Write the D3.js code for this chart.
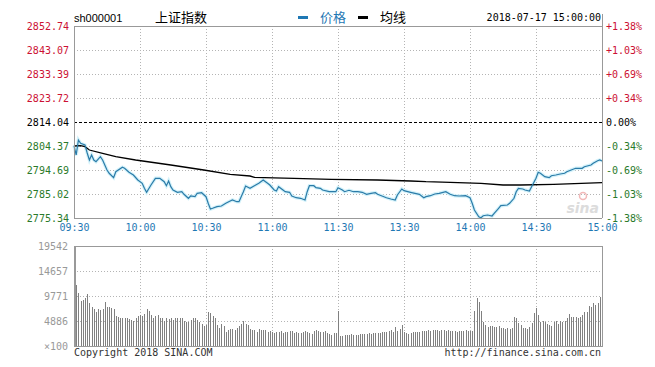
<!DOCTYPE html>
<html>
<head>
<meta charset="utf-8">
<script src="https://cdn.jsdelivr.net/npm/d3@7"></script>
<style>
  body { margin: 0; background: #fff; }
  svg { display: block; }
</style>
</head>
<body>
<svg width="655" height="367"></svg>
<script>
// ---- data ----
var symbol = "sh000001"
var stockName = "上证指数"
var stamp = "2018-07-17 15:00:00"
var prevClose = 2814.04

var priceTicks = [2852.74, 2843.07, 2833.39, 2823.72, 2814.04, 2804.37, 2794.69, 2785.02, 2775.34]
var pctTicks = ["+1.38%", "+1.03%", "+0.69%", "+0.34%", "0.00%", "-0.34%", "-0.69%", "-1.03%", "-1.38%"]
var timeTicks = ["09:30", "10:00", "10:30", "11:00", "11:30", "13:30", "14:00", "14:30", "15:00"]
var volTicks = [19542, 14657, 9771, 4886, 0]
var volTickLabels = ["19542", "14657", "9771", "4886", "×100"]

var priceTimes = ["09:30","09:31","09:32","09:33","09:35","09:36","09:37","09:38","09:39","09:40","09:42","09:43","09:45","09:46","09:48","09:49","09:52","09:53","09:55","09:57","09:59",
  "10:01","10:02","10:03","10:05","10:07","10:09","10:11","10:12","10:13","10:14","10:15","10:17","10:19","10:20","10:22","10:23","10:25","10:26","10:28","10:30",
  "10:31","10:32","10:33","10:35","10:37","10:39","10:41","10:42","10:44","10:45","10:47","10:48","10:50","10:52","10:54","10:56","10:58","10:59",
  "11:01","11:02","11:03","11:05","11:06","11:08","11:09","11:11","11:13","11:15","11:16","11:17","11:19","11:20","11:22","11:23","11:26","11:29","11:30",
  "13:02","13:03","13:05","13:07","13:09","13:11","13:13","13:15","13:17","13:18","13:20","13:22","13:24","13:26","13:27","13:29","13:30",
  "13:33","13:35","13:37","13:39","13:40","13:42","13:44","13:46","13:49","13:51","13:53","13:55","13:58","14:00",
  "14:01","14:02","14:04","14:05","14:06","14:08","14:10","14:11","14:13","14:14","14:17","14:18","14:20","14:21","14:22","14:24","14:25","14:27","14:28","14:30",
  "14:31","14:32","14:34","14:36","14:37","14:39","14:41","14:43","14:44","14:46","14:48","14:51","14:52","14:55","14:56","14:58","14:59","15:00"]
var priceValues = [2804.5,2800.74,2806.78,2805.45,2804.77,2801.54,2798.72,2800.74,2798.72,2798.04,2800.05,2798.72,2794.69,2793.36,2791.59,2794.01,2795.78,2795.38,2793.76,2792.68,2790.66,
  2789.33,2787.31,2785.70,2788.64,2791.34,2791.34,2789.97,2788.36,2790.26,2787.96,2786.63,2785.70,2785.94,2784.89,2783.28,2784.21,2783.93,2785.30,2785.54,2783.93,
  2781.27,2778.97,2779.25,2779.90,2780.18,2781.27,2782.19,2782.60,2781.91,2781.91,2785.94,2788.24,2787.31,2788.36,2789.33,2790.66,2789.33,2788.64,
  2786.63,2786.23,2787.96,2786.63,2785.94,2785.70,2784.21,2783.52,2783.28,2782.60,2785.94,2788.36,2788.36,2787.55,2787.31,2786.63,2785.94,2785.94,2787.55,
  2786.63,2785.94,2786.51,2785.94,2785.94,2785.70,2784.89,2785.30,2785.54,2784.89,2784.21,2783.52,2783.00,2782.60,2784.61,2787.03,2786.35,
  2785.70,2785.30,2784.89,2783.52,2783.93,2784.33,2785.02,2785.30,2785.94,2784.89,2784.33,2784.21,2784.33,2783.52,
  2781.27,2778.57,2775.86,2775.46,2776.27,2776.55,2776.15,2777.24,2779.25,2780.30,2780.58,2781.27,2783.28,2785.94,2787.31,2787.03,2786.63,2786.23,2787.96,2791.34,
  2793.76,2793.36,2791.99,2791.59,2792.39,2792.68,2793.08,2793.36,2794.01,2794.69,2795.38,2795.38,2796.02,2796.71,2797.39,2798.44,2798.72,2798.32]

var avgTimes = ["09:30","09:33","09:35","09:37","09:43","09:49","09:58","10:14","10:29","10:41","10:50","10:52","11:10","11:27","13:18","13:33","13:40","13:51","14:05","14:15","14:23","14:38","15:00"]
var avgValues = [2804.36,2804.49,2804.08,2802.75,2801.42,2800.05,2798.72,2796.71,2794.69,2792.96,2792.27,2791.75,2791.34,2790.94,2790.66,2790.26,2789.97,2789.73,2789.33,2788.64,2788.64,2788.93,2789.57]

// one value per minute slot (241), in units of 100
var volumes = [
  10750,11900,10400,8850,9000,9300,10100,8340,7690,7230,
  6700,7230,7040,7230,8660,7690,7620,7490,7230,5860,
  5730,5540,5540,5540,5450,5340,5080,4890,5410,5860,
  6060,5860,6190,7230,6770,6060,5540,5860,6060,5410,
  5410,4890,5410,5210,5410,5080,5410,5540,5540,5410,
  4890,4760,4630,5080,5410,5540,5080,4760,4240,3980,
  4110,6580,6380,5860,5410,4110,3450,4370,3850,2790,
  3200,3300,3300,3200,3450,3850,4370,4890,4370,4110,
  3300,3200,3100,2790,3300,3200,3100,3100,2790,2900,
  2700,2500,2700,2800,2900,2600,2700,2800,3000,2900,
  2500,2700,2600,2500,2800,2900,2700,2600,2400,2900,
  3100,2900,2700,2800,3000,2500,2300,2200,2600,2500,
  6840,
  1950,1950,2100,2200,2100,2300,2200,2100,2200,2300,
  2400,2300,2300,2500,2400,2500,2500,2600,2500,2700,
  2800,2700,2900,3200,2800,3780,3000,3260,4100,2800,
  2500,2400,2600,2700,2700,2800,2800,3000,2900,2900,
  3100,3000,3200,3200,3100,3000,3100,3200,3000,3100,
  3000,2900,3000,2800,2900,3000,2900,3100,2900,2900,
  2900,6840,9320,8660,6840,4760,4110,3800,3900,3900,
  3800,3700,3900,3600,3500,3300,3500,3300,3500,5730,
  5400,4430,4100,3500,3500,3300,3800,4430,6380,7360,
  6060,4760,4890,4630,4370,4110,3850,4760,4890,4370,
  4890,4760,4890,5410,6190,5730,5600,5600,5410,5730,
  5980,6580,6580,7880,7620,8340,8080,8340,9650,11600]

// minute slot from "hh:mm" (11:30 and 13:00 share slot 120)
function slot(t) {
  var p = t.split(":"), m = +p[0] * 60 + +p[1]
  return m <= 690 ? m - 570 : m - 780 + 120
}

var svg = d3.select("svg")
var mono = "'DejaVu Sans Mono', monospace"
var red = "#cc1133", green = "#2a7a2a", blue = "#1f78b4", gray = "#999"

var x = d3.scaleLinear().domain([0, 240]).range([74, 602])
var y = d3.scaleLinear().domain([2775.34, 2852.74]).range([218, 26])
var yv = d3.scaleLinear().domain([0, 19542]).range([346, 246])

function labelColor(v) {
  return v > prevClose + 0.001 ? red : (v < prevClose - 0.001 ? green : "#000")
}

// ---- header ----
svg.append("text").attr("x", 74).attr("y", 22)
  .style("font", "11px 'Liberation Sans', Arial, sans-serif").text(symbol)
svg.append("text").attr("x", 155).attr("y", 22)
  .style("font", "13px 'Noto Sans CJK SC', sans-serif").text(stockName)
svg.append("line").attr("x1", 298).attr("x2", 308).attr("y1", 17.5).attr("y2", 17.5)
  .attr("stroke", blue).attr("stroke-width", 3)
svg.append("text").attr("x", 320).attr("y", 22).attr("fill", blue)
  .style("font", "13px 'Noto Sans CJK SC', sans-serif").text("价格")
svg.append("line").attr("x1", 358).attr("x2", 368).attr("y1", 17.5).attr("y2", 17.5)
  .attr("stroke", "#000").attr("stroke-width", 3)
svg.append("text").attr("x", 380).attr("y", 22)
  .style("font", "13px 'Noto Sans CJK SC', sans-serif").text("均线")
svg.append("text").attr("x", 601).attr("y", 21).attr("text-anchor", "end")
  .style("font", "10px " + mono).text(stamp)

// ---- price grid ----
var grid = svg.append("g").attr("shape-rendering", "crispEdges")
grid.selectAll("line.h").data(priceTicks.slice(1, -1)).enter().append("line")
  .attr("x1", 74).attr("x2", 602)
  .attr("y1", function(d) { return Math.round(y(d)) + 0.5 })
  .attr("y2", function(d) { return Math.round(y(d)) + 0.5 })
  .attr("stroke", function(d) { return d === prevClose ? "#000" : "#b4b4b4" })
  .attr("stroke-dasharray", function(d) { return d === prevClose ? "3,2" : "1,2" })
grid.selectAll("line.v").data(d3.range(1, 8)).enter().append("line")
  .attr("x1", function(d) { return Math.round(x(d * 30)) + 0.5 })
  .attr("x2", function(d) { return Math.round(x(d * 30)) + 0.5 })
  .attr("y1", 26).attr("y2", 218)
  .attr("stroke", "#b4b4b4").attr("stroke-dasharray", "1,2")

// volume grid
grid.selectAll("line.vh").data(volTicks.slice(1, -1)).enter().append("line")
  .attr("x1", 74).attr("x2", 602)
  .attr("y1", function(d) { return Math.round(yv(d)) + 0.5 })
  .attr("y2", function(d) { return Math.round(yv(d)) + 0.5 })
  .attr("stroke", "#b4b4b4").attr("stroke-dasharray", "1,2")
grid.selectAll("line.vv").data(d3.range(1, 8)).enter().append("line")
  .attr("x1", function(d) { return Math.round(x(d * 30)) + 0.5 })
  .attr("x2", function(d) { return Math.round(x(d * 30)) + 0.5 })
  .attr("y1", 246).attr("y2", 346)
  .attr("stroke", "#b4b4b4").attr("stroke-dasharray", "1,2")

// ---- watermark ----
svg.append("circle").attr("cx", 583).attr("cy", 196).attr("r", 3.5)
  .attr("fill", "none").attr("stroke", "#f2b8b8").attr("stroke-width", 1.5)
svg.append("text").attr("x", 599).attr("y", 213).attr("text-anchor", "end")
  .style("font", "italic bold 14px 'DejaVu Sans', sans-serif").attr("fill", "#dcdcdc").text("sina")

// ---- volume bars ----
svg.append("g").attr("shape-rendering", "crispEdges")
  .selectAll("line").data(volumes).enter().append("line")
  .attr("x1", function(d, i) { return Math.round(x(i)) + 0.5 })
  .attr("x2", function(d, i) { return Math.round(x(i)) + 0.5 })
  .attr("y1", function(d) { return yv(d) })
  .attr("y2", 346)
  .attr("stroke", "#808080")

// ---- lines ----
var priceLine = d3.line()
  .x(function(d, i) { return x(slot(priceTimes[i])) })
  .y(function(d) { return y(d) })
var avgLine = d3.line()
  .x(function(d, i) { return x(slot(avgTimes[i])) })
  .y(function(d) { return y(d) })

svg.append("path").datum(priceValues).attr("d", priceLine)
  .attr("fill", "none").attr("stroke", "#d4f2fa").attr("stroke-width", 3.5)
svg.append("path").datum(avgValues).attr("d", avgLine)
  .attr("fill", "none").attr("stroke", "#000").attr("stroke-width", 1.3)
svg.append("path").datum(priceValues).attr("d", priceLine)
  .attr("fill", "none").attr("stroke", "#2b7ba8").attr("stroke-width", 1.2)

// ---- frames ----
var frame = svg.append("g").attr("shape-rendering", "crispEdges").attr("stroke", gray).attr("fill", "none")
frame.append("line").attr("x1", 74).attr("x2", 602).attr("y1", 26.5).attr("y2", 26.5)
frame.append("line").attr("x1", 74).attr("x2", 602).attr("y1", 218.5).attr("y2", 218.5)
frame.append("line").attr("x1", 74.5).attr("x2", 74.5).attr("y1", 26).attr("y2", 218)
frame.append("line").attr("x1", 602.5).attr("x2", 602.5).attr("y1", 14).attr("y2", 218)
frame.append("rect").attr("x", 74.5).attr("y", 246.5).attr("width", 528).attr("height", 100)
frame.append("line").attr("x1", 75.5).attr("x2", 75.5).attr("y1", 246).attr("y2", 346)

// ---- axes ----
var leftAxis = svg.append("g").attr("transform", "translate(74,0)")
  .call(d3.axisLeft(y).tickValues(priceTicks).tickSize(0).tickPadding(5)
    .tickFormat(function(d) { return d.toFixed(2) }))
var rightAxis = svg.append("g").attr("transform", "translate(602,0)")
  .call(d3.axisRight(y).tickValues(priceTicks).tickSize(0).tickPadding(4)
    .tickFormat(function(d, i) { return pctTicks[i] }))
var timeAxis = svg.append("g").attr("transform", "translate(0,218)")
  .call(d3.axisBottom(x).tickValues(timeTicks.map(slot)).tickSize(0).tickPadding(6)
    .tickFormat(function(d, i) { return timeTicks[i] }))
var volAxis = svg.append("g").attr("transform", "translate(74,0)")
  .call(d3.axisLeft(yv).tickValues(volTicks).tickSize(0).tickPadding(6)
    .tickFormat(function(d, i) { return volTickLabels[i] }))

;[leftAxis, rightAxis, timeAxis, volAxis].forEach(function(g) {
  g.select(".domain").remove()
  g.attr("font-family", null).attr("font-size", null)
  g.selectAll("text").style("font", "10px " + mono)
})
leftAxis.selectAll("text").attr("fill", function(d) { return labelColor(d) })
rightAxis.selectAll("text").attr("fill", function(d) { return labelColor(d) })
timeAxis.selectAll("text").attr("fill", blue)
volAxis.selectAll("text").attr("fill", gray)

// ---- footer ----
svg.append("text").attr("x", 74).attr("y", 356).attr("fill", "#333")
  .style("font", "10px " + mono).text("Copyright 2018 SINA.COM")
svg.append("text").attr("x", 601).attr("y", 356).attr("fill", "#333").attr("text-anchor", "end")
  .style("font", "10px " + mono).text("http://finance.sina.com.cn")
</script>
</body>
</html>
